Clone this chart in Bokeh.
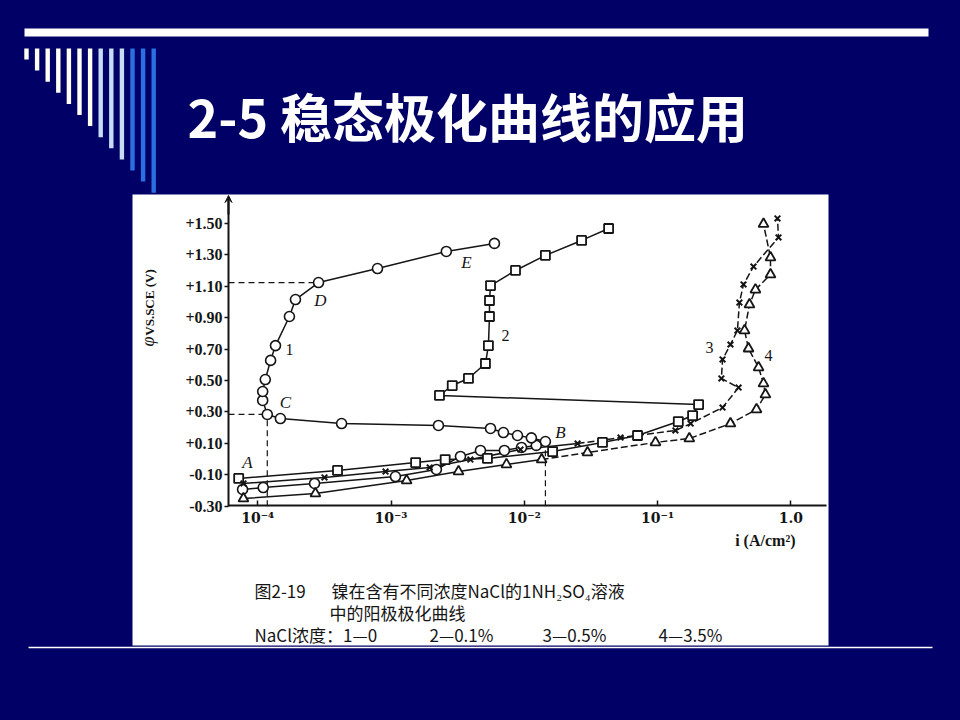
import math
from bokeh.plotting import figure
from bokeh.models import (Range1d, LogScale, LinearAxis, LogAxis, FixedTicker,
                          NumeralTickFormatter, Arrow, VeeHead)
from bokeh.core.properties import value
from bokeh.embed import file_html
from bokeh.resources import INLINE

# ---------------- data (current density i in A/cm^2, potential phi in V vs SCE) -------------
# curve 1: NaCl 0  (A -> B active, B -> C back, C -> D passive, D -> E transpassive)
i1 = [7.7e-5, 1.10e-4, 2.67e-4, 1.08e-3, 2.19e-3, 3.32e-3, 4.69e-3, 7.09e-3, 9.53e-3, 1.23e-2,
      1.44e-2, 1.13e-2, 8.89e-3, 6.97e-3, 5.58e-3, 2.27e-3, 4.26e-4, 1.48e-4, 1.18e-4, 1.09e-4,
      1.09e-4, 1.14e-4, 1.25e-4, 1.36e-4, 1.73e-4, 1.92e-4, 2.86e-4, 7.92e-4, 2.60e-3, 5.97e-3]
phi1 = [-0.193, -0.181, -0.155, -0.111, -0.066, 0.017, 0.055, 0.055, 0.074, 0.087,
        0.112, 0.135, 0.150, 0.169, 0.195, 0.214, 0.226, 0.258, 0.284, 0.373,
        0.430, 0.506, 0.628, 0.722, 0.907, 1.015, 1.123, 1.212, 1.321, 1.372]
B_IDX, C_IDX, D_IDX = 10, 18, 26

# curve 2: NaCl 0.1 %
i2 = [7.2e-5, 3.97e-4, 1.53e-3, 2.55e-3, 5.29e-3, 1.63e-2, 3.86e-2, 7.07e-2, 0.143, 0.183,
      0.203, 2.31e-3, 2.88e-3, 3.81e-3, 5.11e-3, 5.38e-3, 5.48e-3, 5.48e-3, 5.58e-3, 8.59e-3,
      1.44e-2, 2.69e-2, 4.29e-2]
phi2 = [-0.123, -0.072, -0.022, -0.003, 0.004, 0.048, 0.106, 0.150, 0.239, 0.277,
        0.347, 0.405, 0.468, 0.513, 0.608, 0.722, 0.907, 1.009, 1.104, 1.200,
        1.296, 1.391, 1.467]

# curve 3: NaCl 0.5 %
i3 = [7.82e-5, 3.17e-4, 9.10e-4, 1.95e-3, 3.94e-3, 9.36e-3, 2.51e-2, 5.27e-2, 0.136, 0.177,
      0.307, 0.405, 0.301, 0.307, 0.352, 0.397, 0.411, 0.441, 0.524, 0.807, 0.793]
phi3 = [-0.155, -0.117, -0.079, -0.053, -0.003, 0.061, 0.099, 0.137, 0.182, 0.226,
        0.328, 0.455, 0.513, 0.634, 0.729, 0.818, 0.996, 1.111, 1.225, 1.410, 1.531]
DASH3 = 6

# curve 4: NaCl 3.5 %
i4 = [7.82e-5, 2.71e-4, 1.31e-3, 3.21e-3, 7.35e-3, 1.35e-2, 2.98e-2, 9.64e-2, 0.173, 0.352,
      0.552, 0.644, 0.623, 0.572, 0.481, 0.449, 0.489, 0.542, 0.703, 0.703, 0.623]
phi4 = [-0.251, -0.219, -0.136, -0.079, -0.034, -0.003, 0.042, 0.106, 0.131, 0.226,
        0.316, 0.411, 0.481, 0.583, 0.703, 0.818, 0.983, 1.078, 1.174, 1.282, 1.495]
DASH4 = 5

phi_ticks = [-0.3, -0.1, 0.1, 0.3, 0.5, 0.7, 0.9, 1.1, 1.3, 1.5]
i_ticks = [1e-4, 1e-3, 1e-2, 1e-1, 1.0]
i_tick_labels = ["10⁻⁴", "10⁻³", "10⁻²", "10⁻¹", "1.0"]

point_letters = ["A", "B", "C", "D", "E"]
curve_numbers = ["1", "2", "3", "4"]

title_text = "2-5 稳态极化曲线的应用"
y_label_sym = "φ"
y_label_rest = "VS.SCE (V)"
x_label = "i (A/cm²)"
caption_fig = "图2-19"
caption_line1 = "镍在含有不同浓度NaCl的1NH₂SO₄溶液"
caption_line2 = "中的阳极极化曲线"
caption_line3 = ["NaCl浓度：1—0", "2—0.1%", "3—0.5%", "4—3.5%"]

# ---------------- page calibration (page pixels) ----------------
X_ONE = 790.4      # page x of i = 1.0
X_PER_DEC = 133.3  # pixels per decade
Y_ZERO = 458.6     # page y of phi = 0
Y_PER_V = 157.2    # pixels per volt


def i_at(px):
    return 10 ** ((px - X_ONE) / X_PER_DEC)


def phi_at(py):
    return (Y_ZERO - py) / Y_PER_V


NAVY = "#000066"
INK = "#151515"
SERIF = "Liberation Serif"
CJK = "Noto Sans CJK SC"

p = figure(width=944, height=704, x_range=Range1d(8, 952), y_range=Range1d(712, 8),
           output_backend="svg", toolbar_location=None, min_border=0,
           x_axis_type=None, y_axis_type=None)
p.background_fill_color = NAVY
p.border_fill_color = NAVY
p.outline_line_color = None

p.extra_x_ranges = {"i": Range1d(i_at(8), i_at(952))}
p.extra_x_scales = {"i": LogScale()}
p.extra_y_ranges = {"phi": Range1d(phi_at(712), phi_at(8))}

# ---------------- slide decoration ----------------
p.quad(left=[24], right=[928], top=[28], bottom=[36], fill_color="white", line_color=None)
bar_x = [26 + 10.6 * k for k in range(13)]
bar_bottom = [59 + 11.1 * k for k in range(13)]
bar_col = ["#FFFFF4"] * 7 + ["#C9DCF6"] * 3 + ["#2A70E2"] * 3
p.quad(left=[x - 2.2 for x in bar_x], right=[x + 2.2 for x in bar_x],
       top=[48] * 13, bottom=bar_bottom, fill_color=bar_col, line_color=None)
p.segment(x0=[28], y0=[647], x1=[932], y1=[647], line_color="white", line_width=1.5)

p.text(x=[187], y=[115], text=[title_text], text_color="white",
       text_font=value(CJK), text_font_style="bold", text_font_size="52px",
       text_align="left", text_baseline="middle")

# white scanned-figure panel
p.quad(left=[132], right=[828], top=[194], bottom=[645], fill_color="white", line_color=None)

# ---------------- chart ----------------
R = dict(x_range_name="i", y_range_name="phi")
i_axis_left = i_at(228)
i_axis_right = i_at(826)
phi_axis_bottom = -0.3
phi_axis_top = phi_at(198)

# dashed guide lines from characteristic points
p.line([i_axis_left, i1[D_IDX]], [phi1[D_IDX]] * 2, line_color=INK, line_width=1.2, line_dash="6 4", **R)
p.line([i_axis_left, i1[C_IDX]], [phi1[C_IDX]] * 2, line_color=INK, line_width=1.2, line_dash="6 4", **R)
p.line([i1[C_IDX]] * 2, [phi_axis_bottom, phi1[C_IDX]], line_color=INK, line_width=1.2, line_dash="6 4", **R)
p.line([i1[B_IDX]] * 2, [phi_axis_bottom, phi1[B_IDX]], line_color=INK, line_width=1.2, line_dash="6 4", **R)

# curves
p.line(i1, phi1, line_color=INK, line_width=1.5, **R)
p.line(i2, phi2, line_color=INK, line_width=1.5, **R)
p.line(i3[:DASH3 + 1], phi3[:DASH3 + 1], line_color=INK, line_width=1.5, **R)
p.line(i3[DASH3:], phi3[DASH3:], line_color=INK, line_width=1.5, line_dash="7 3", **R)
p.line(i4[:DASH4 + 1], phi4[:DASH4 + 1], line_color=INK, line_width=1.5, **R)
p.line(i4[DASH4:], phi4[DASH4:], line_color=INK, line_width=1.5, line_dash="7 3", **R)

p.scatter(i1, phi1, marker="circle", size=10, fill_color="white", line_color=INK, line_width=1.6, **R)
p.scatter(i2, phi2, marker="square", size=9, fill_color="white", line_color=INK, line_width=1.8, **R)
p.scatter(i3, phi3, marker="x", size=8, line_color=INK, line_width=2, **R)
p.scatter(i4, phi4, marker="triangle", size=10, fill_color="white", line_color=INK, line_width=1.8, **R)

# axes
yax = LinearAxis(y_range_name="phi", fixed_location=228, bounds=(phi_axis_bottom, phi_axis_top),
                 ticker=FixedTicker(ticks=phi_ticks), formatter=NumeralTickFormatter(format="+0.00"))
yax.axis_line_color = INK
yax.axis_line_width = 2
yax.major_tick_line_color = INK
yax.major_tick_line_width = 1.5
yax.major_tick_out = 4
yax.major_tick_in = 0
yax.minor_tick_line_color = None
yax.major_label_standoff = 2
yax.major_label_text_font = SERIF
yax.major_label_text_font_style = "bold"
yax.major_label_text_font_size = "16px"
yax.major_label_text_color = INK
p.add_layout(yax, "left")

xax = LogAxis(x_range_name="i", fixed_location=505, bounds=(i_axis_left, i_axis_right),
              ticker=FixedTicker(ticks=i_ticks),
              major_label_overrides=dict(zip(i_ticks, i_tick_labels)))
xax.axis_line_color = INK
xax.axis_line_width = 2
xax.major_tick_line_color = INK
xax.major_tick_line_width = 1.5
xax.major_tick_in = 5
xax.major_tick_out = 0
xax.minor_tick_line_color = None
xax.major_label_standoff = 4
xax.major_label_text_font = "DejaVu Serif"
xax.major_label_text_font_style = "bold"
xax.major_label_text_font_size = "14px"
xax.major_label_text_color = INK
p.add_layout(xax, "below")

p.add_layout(Arrow(x_start=228, y_start=214, x_end=228, y_end=195, line_color=INK, line_width=2,
                   end=VeeHead(size=7, fill_color=INK, line_color=INK)))

# axis titles
p.text(x=[147], y=[341], text=[y_label_sym], angle=math.pi / 2, text_color=INK,
       text_font=value(SERIF), text_font_style="italic", text_font_size="18px",
       text_align="center", text_baseline="middle")
p.text(x=[149], y=[302], text=[y_label_rest], angle=math.pi / 2, text_color=INK,
       text_font=value(SERIF), text_font_style="bold", text_font_size="13px",
       text_align="center", text_baseline="middle")
p.text(x=[795], y=[540], text=[x_label], text_color=INK,
       text_font=value(SERIF), text_font_style="bold", text_font_size="16px",
       text_align="right", text_baseline="middle")

# point letters and curve numbers
p.text(x=[247, 560, 285, 320, 466], y=[462, 432, 402, 300, 262], text=point_letters,
       text_color=INK, text_font=value(SERIF), text_font_style="italic", text_font_size="17px",
       text_align="center", text_baseline="middle")
p.text(x=[289, 505, 709, 768], y=[349, 335, 347, 355], text=curve_numbers,
       text_color=INK, text_font=value(SERIF), text_font_size="16px",
       text_align="center", text_baseline="middle")

# caption
cap = dict(text_color=INK, text_font=value(CJK), text_font_size="17px",
           text_align="left", text_baseline="middle")
p.text(x=[254], y=[590], text=[caption_fig], **cap)
p.text(x=[331], y=[590], text=[caption_line1], **cap)
p.text(x=[329], y=[612], text=[caption_line2], **cap)
p.text(x=[254, 429, 542, 658], y=[634] * 4, text=caption_line3, **cap)

open("out.html", "w").write(file_html(p, INLINE).replace(
    "<body>", '<body style="margin:8px;background-color:#000066;">'))
